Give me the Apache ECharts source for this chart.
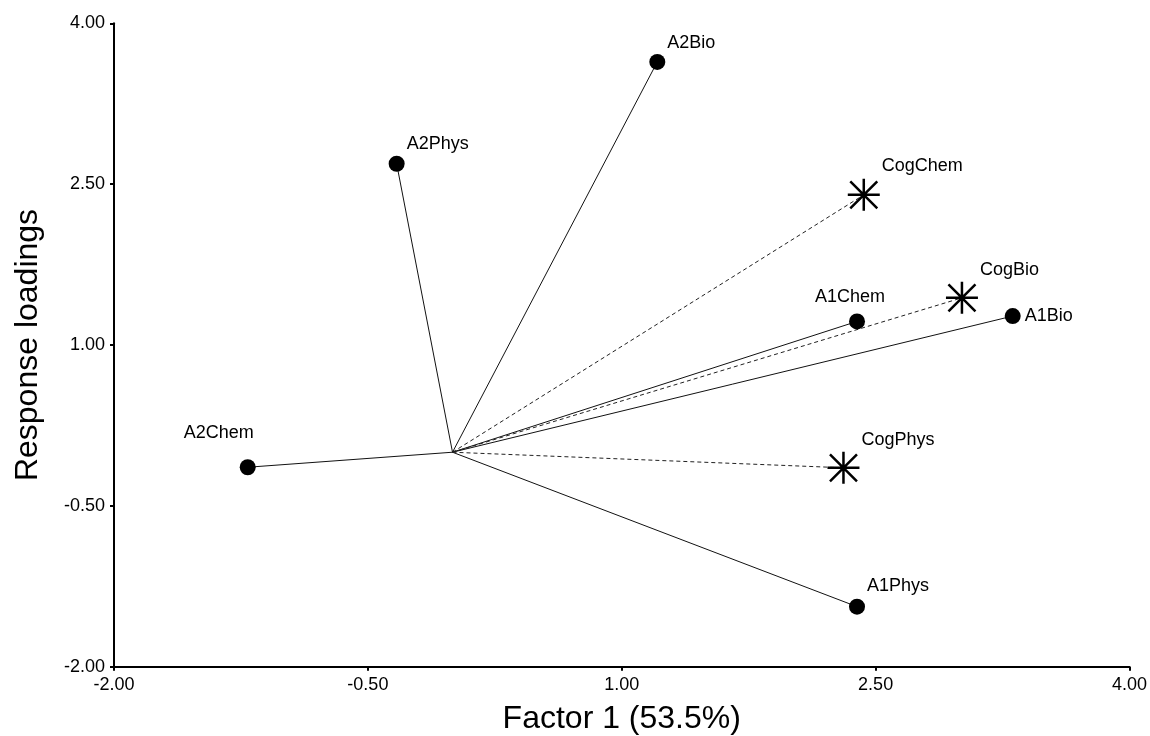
<!DOCTYPE html>
<html>
<head>
<meta charset="utf-8">
<script src="https://cdn.jsdelivr.net/npm/echarts@6/dist/echarts.min.js"></script>
<style>
html,body{margin:0;padding:0;background:#fff;}
#chart{width:1150px;height:736px;}
</style>
</head>
<body>
<div id="chart"></div>
<script>
// ---- data ----
const origin = [0, 0];
const assessNames = ['A1Bio', 'A1Chem', 'A1Phys', 'A2Bio', 'A2Chem', 'A2Phys'];
const assessX = [3.31, 2.39, 2.39, 1.21, -1.21, -0.33];
const assessY = [1.27, 1.22, -1.44, 3.64, -0.14, 2.69];
const cogNames = ['CogBio', 'CogChem', 'CogPhys'];
const cogX = [3.01, 2.43, 2.31];
const cogY = [1.44, 2.40, -0.145];
const tickValues = [-2, -0.5, 1, 2.5, 4];
const xTitle = 'Factor 1 (53.5%)';
const yTitle = 'Response loadings';

// ---- label placement (style) ----
const labelOffsets = {
  A1Bio: [12, 0], A1Chem: [-42, -24], A1Phys: [10, -21], A2Bio: [10, -19],
  A2Chem: [-64, -34], A2Phys: [10, -20],
  CogBio: [18, -28], CogChem: [18, -29], CogPhys: [18, -28]
};
const FONT = 'Arial, "Liberation Sans", sans-serif';
const starPath = 'path://M0,16 L32,16 M16,0 L16,32 M2.5,2.5 L29.5,29.5 M29.5,2.5 L2.5,29.5';

const series = [];
assessNames.forEach((n, i) => {
  series.push({
    type: 'line', data: [origin, [assessX[i], assessY[i]]],
    showSymbol: false, symbol: 'none', silent: true, z: 1,
    lineStyle: { color: '#111', width: 1, type: 'solid', opacity: 1 }
  });
});
cogNames.forEach((n, i) => {
  series.push({
    type: 'line', data: [origin, [cogX[i], cogY[i]]],
    showSymbol: false, symbol: 'none', silent: true, z: 1,
    lineStyle: { color: '#222', width: 1, type: [4, 3], opacity: 1 }
  });
});
function lab(n) {
  return {
    show: true, position: 'inside', align: 'left', verticalAlign: 'middle',
    offset: labelOffsets[n], formatter: n, color: '#000', fontSize: 18, fontFamily: FONT
  };
}
series.push({
  type: 'scatter', z: 3, symbol: 'circle', symbolSize: 16,
  itemStyle: { color: '#000', opacity: 1 },
  emphasis: { disabled: true },
  data: assessNames.map((n, i) => ({ value: [assessX[i], assessY[i]], label: lab(n) }))
});
series.push({
  type: 'scatter', z: 3, symbol: starPath, symbolSize: 32,
  itemStyle: { color: 'transparent', borderColor: '#000', borderWidth: 2.5, opacity: 1 },
  emphasis: { disabled: true },
  data: cogNames.map((n, i) => ({ value: [cogX[i], cogY[i]], label: lab(n) }))
});

const axisCommon = {
  type: 'value', min: -2, max: 4,
  axisLine: { show: true, onZero: false, lineStyle: { color: '#000', width: 2 } },
  axisTick: { show: true, length: 4, inside: false, customValues: tickValues, lineStyle: { color: '#000', width: 2 } },
  axisLabel: { customValues: tickValues, formatter: v => v.toFixed(2), color: '#000', fontSize: 18, fontFamily: FONT, margin: 9 },
  splitLine: { show: false },
  nameLocation: 'middle',
  nameTextStyle: { color: '#000', fontSize: 32, fontFamily: FONT }
};

const chart = echarts.init(document.getElementById('chart'));
chart.setOption({
  animation: false,
  backgroundColor: '#fff',
  grid: { left: 114, right: 20.5, top: 23.3, bottom: 69.3, containLabel: false, outerBoundsMode: 'none' },
  xAxis: Object.assign({}, axisCommon, { name: xTitle, nameGap: 36 }),
  yAxis: Object.assign({}, axisCommon, { name: yTitle, nameGap: 70 }),
  series: series
});
</script>
</body>
</html>
